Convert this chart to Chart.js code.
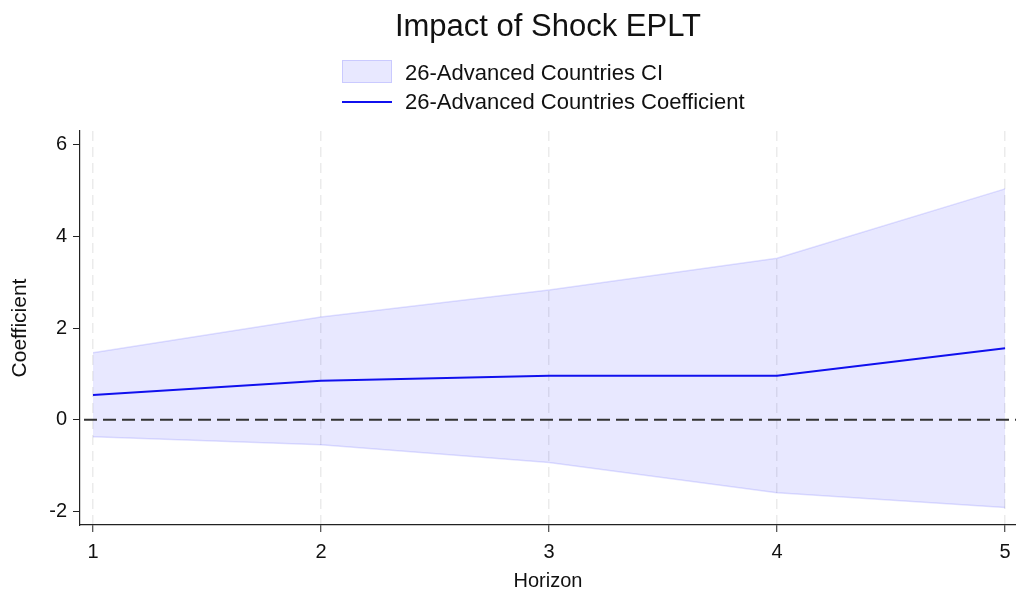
<!DOCTYPE html>
<html>
<head>
<meta charset="utf-8">
<script src="https://cdn.jsdelivr.net/npm/chart.js@4"></script>
<style>
  body { margin: 0; background: #fff; font-family: "Liberation Sans", Arial, sans-serif; }
  #wrap { position: relative; width: 1016px; height: 596px; }
  #title { position: absolute; left: 80px; width: 936px; top: 8px; text-align: center; font-size: 31px; color: #111; }
  .leg { position: absolute; left: 342px; font-size: 22px; color: #111; }
  .leg span { position: absolute; left: 63px; white-space: nowrap; top: -12px; }
  #legBox { top: 60px; width: 48px; height: 21px; background: rgba(0,0,255,0.09); border: 1px solid rgba(0,0,255,0.13); }
  #legLine { top: 101px; width: 50px; height: 2px; background: #1010ee; }
  #legBox span { top: -1px; left: 62px; }
  canvas { position: absolute; left: 0; top: 0; }
</style>
</head>
<body>
<div id="wrap">
  <canvas id="chart" width="1016" height="596"></canvas>
  <div id="title">Impact of Shock EPLT</div>
  <div class="leg" id="legBox"><span>26-Advanced Countries CI</span></div>
  <div class="leg" id="legLine"><span>26-Advanced Countries Coefficient</span></div>
</div>
<script>
var horizon = [1, 2, 3, 4, 5];
var coef = [0.54, 0.85, 0.96, 0.96, 1.56];
var ciUpper = [1.46, 2.24, 2.83, 3.52, 5.03];
var ciLower = [-0.37, -0.54, -0.93, -1.59, -1.91];
var yTicks = [-2, 0, 2, 4, 6];

function pts(vals) {
    return horizon.map(function (h, i) { return { x: h, y: vals[i] }; });
}

// dashed reference line at zero
var zeroLine = {
    id: 'zeroLine',
    afterDatasetsDraw: function (chart) {
        var ctx = chart.ctx, a = chart.chartArea;
        var y = chart.scales.y.getPixelForValue(0);
        ctx.save();
        ctx.strokeStyle = '#333';
        ctx.lineWidth = 2;
        ctx.setLineDash([13, 6]);
        ctx.beginPath();
        ctx.moveTo(a.left + 4, y);
        ctx.lineTo(a.right, y);
        ctx.stroke();
        ctx.restore();
    }
};

var ctx = document.getElementById('chart').getContext('2d');
var chart = new Chart(ctx, {
    type: 'line',
    data: {
        datasets: [{
            label: '26-Advanced Countries Coefficient',
            data: pts(coef),
            borderColor: '#1010ee',
            borderWidth: 2,
            pointRadius: 0,
            fill: false,
            tension: 0
        }, {
            label: 'lower',
            data: pts(ciLower),
            borderColor: 'rgba(0,0,255,0.12)',
            borderWidth: 1.5,
            pointRadius: 0,
            fill: false,
            tension: 0
        }, {
            label: '26-Advanced Countries CI',
            data: pts(ciUpper),
            borderColor: 'rgba(0,0,255,0.12)',
            backgroundColor: 'rgba(0,0,255,0.09)',
            borderWidth: 1.5,
            pointRadius: 0,
            fill: 1,
            tension: 0
        }]
    },
    options: {
        responsive: false,
        animation: false,
        layout: { padding: { top: 131, right: 0, left: 0, bottom: 0 } },
        plugins: {
            legend: { display: false },
            tooltip: { enabled: false }
        },
        scales: {
            x: {
                type: 'linear',
                min: 0.943,
                max: 5.048,
                afterBuildTicks: function (s) { s.ticks = horizon.map(function (v) { return { value: v }; }); },
                afterFit: function (s) { s.height = 71; s.paddingRight = 0; s.paddingLeft = 0; },
                grid: {
                    color: '#ebebeb',
                    lineWidth: 1.5,
                    tickColor: '#222',
                    tickLength: 7,
                    tickWidth: 1
                },
                border: { display: true, color: '#222', width: 1.2, dash: [10, 6] },
                ticks: { color: '#111', padding: 8, font: { family: 'Liberation Sans', size: 20 } },
                title: {
                    display: true, text: 'Horizon', color: '#111',
                    padding: { top: 0, bottom: 3 },
                    font: { family: 'Liberation Sans', size: 20 }
                }
            },
            y: {
                min: -2.29,
                max: 6.29,
                afterBuildTicks: function (s) { s.ticks = yTicks.map(function (v) { return { value: v }; }); },
                afterFit: function (s) { s.width = 80; s.paddingTop = 0; s.paddingBottom = 0; },
                grid: {
                    drawOnChartArea: false,
                    tickColor: '#222',
                    tickLength: 7,
                    tickWidth: 1
                },
                border: { display: true, color: '#222', width: 1.2 },
                ticks: { color: '#111', padding: 6, font: { family: 'Liberation Sans', size: 20 } },
                title: {
                    display: true, text: 'Coefficient', color: '#111',
                    padding: { top: 8, bottom: 0 },
                    font: { family: 'Liberation Sans', size: 21 }
                }
            }
        }
    },
    plugins: [zeroLine]
});
</script>
</body>
</html>
